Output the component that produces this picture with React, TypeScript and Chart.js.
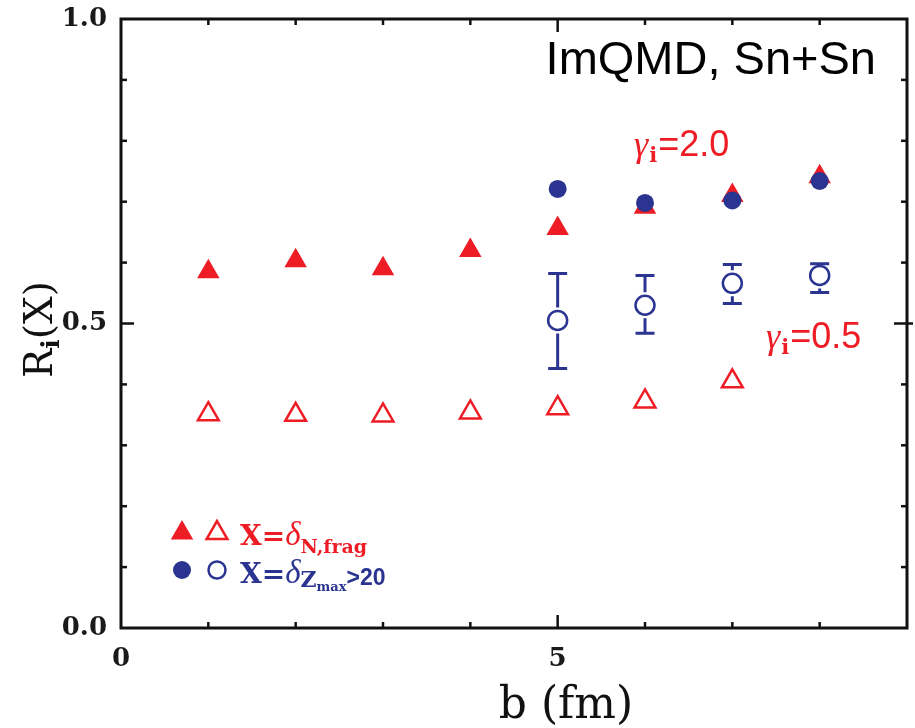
import React, { useEffect, useRef } from 'react';
import { Chart, registerables } from 'chart.js';

Chart.register(...registerables);

const RED = '#EE1D25';
const BLUE = '#2B3591';

// impact parameter b (fm)
const bAll = [1, 2, 3, 4, 5, 6, 7, 8];
const bOpenTri = [1, 2, 3, 4, 5, 6, 7];
const bZmax = [5, 6, 7, 8];
// X = delta_{N,frag}
const nFragGamma20 = [0.585, 0.603, 0.59, 0.62, 0.656, 0.691, 0.71, 0.741];
const nFragGamma05 = [0.351, 0.35, 0.349, 0.354, 0.361, 0.372, 0.405];
// X = delta_{Zmax>20}
const zmaxGamma20 = [0.721, 0.698, 0.702, 0.734];
const zmaxGamma05 = [0.505, 0.53, 0.566, 0.579];
const zmaxGamma05Low = [0.426, 0.484, 0.533, 0.551];
const zmaxGamma05High = [0.582, 0.579, 0.597, 0.598];
// tick labels
const xTickLabels = [0, 5];
const yTickLabels = [0, 0.5, 1.0];

type Run = { text: string; font: string; dy?: number; dx?: number; color?: string };

function drawRuns(ctx: CanvasRenderingContext2D, x: number, y: number, runs: Run[], color: string) {
  let cx = x;
  for (const r of runs) {
    ctx.font = r.font;
    ctx.fillStyle = r.color || color;
    cx += r.dx || 0;
    ctx.fillText(r.text, cx, y + (r.dy || 0));
    cx += ctx.measureText(r.text).width;
  }
  return cx;
}

function tri(ctx: CanvasRenderingContext2D, x: number, y: number, r: number, fill: boolean) {
  ctx.beginPath();
  for (let k = 0; k < 3; k++) {
    const a = (k * 2 * Math.PI) / 3;
    const px = x + Math.sin(a) * r;
    const py = y - Math.cos(a) * r;
    if (k === 0) ctx.moveTo(px, py);
    else ctx.lineTo(px, py);
  }
  ctx.closePath();
  if (fill) ctx.fill();
  else ctx.stroke();
}

const framePlugin = {
  id: 'frameAndText',
  afterDatasetsDraw(chart: any) {
    const { ctx, scales } = chart;
    const idx = chart.data.datasets.findIndex((d: any) => d.label === 'zmax05');
    const meta = chart.getDatasetMeta(idx);
    ctx.save();
    ctx.strokeStyle = BLUE;
    ctx.lineWidth = 3;
    meta.data.forEach((el: any, i: number) => {
      const yHi = scales.y.getPixelForValue(zmaxGamma05High[i]);
      const yLo = scales.y.getPixelForValue(zmaxGamma05Low[i]);
      const gap = 13;
      const x = el.x;
      ctx.beginPath();
      if (el.y - gap > yHi) {
        ctx.moveTo(x, yHi);
        ctx.lineTo(x, el.y - gap);
      }
      if (el.y + gap < yLo) {
        ctx.moveTo(x, el.y + gap);
        ctx.lineTo(x, yLo);
      }
      ctx.moveTo(x - 9.5, yHi);
      ctx.lineTo(x + 9.5, yHi);
      ctx.moveTo(x - 9.5, yLo);
      ctx.lineTo(x + 9.5, yLo);
      ctx.stroke();
    });
    ctx.restore();
  },
  afterDraw(chart: any) {
    const { ctx, chartArea: a, scales } = chart;
    ctx.save();
    // frame
    ctx.strokeStyle = '#111';
    ctx.lineWidth = 3;
    ctx.strokeRect(a.left, a.top, a.right - a.left, a.bottom - a.top);
    ctx.lineWidth = 2.5;
    const line = (x1: number, y1: number, x2: number, y2: number) => {
      ctx.beginPath();
      ctx.moveTo(x1, y1);
      ctx.lineTo(x2, y2);
      ctx.stroke();
    };
    for (let v = 1; v < 9; v++) {
      const px = scales.x.getPixelForValue(v);
      const L = v === 5 ? 13 : 6;
      line(px, a.bottom, px, a.bottom - L);
      line(px, a.top, px, a.top + L);
    }
    for (let i = 1; i < 10; i++) {
      const py = scales.y.getPixelForValue(i / 10);
      const L = i === 5 ? 13 : 6;
      line(a.left, py, a.left + L, py);
      line(i === 5 ? a.right + 6 : a.right, py, a.right - L, py);
    }

    ctx.textBaseline = 'alphabetic';
    ctx.textAlign = 'left';

    // title text
    ctx.fillStyle = '#000';
    ctx.font = '47px "Liberation Sans"';
    ctx.textAlign = 'right';
    ctx.fillText('ImQMD, Sn+Sn', 876, 74);
    ctx.textAlign = 'left';

    // gamma labels
    const gRuns = (val: string): Run[] => [
      { text: 'γ', font: 'italic 36px "Liberation Serif"' },
      { text: 'i', font: 'bold 21px "DejaVu Serif"', dy: 6, dx: 1 },
      { text: '=' + val, font: '36px "Liberation Sans"', dx: 1 },
    ];
    drawRuns(ctx, 634, 156, gRuns('2.0'), RED);
    drawRuns(ctx, 766, 348, gRuns('0.5'), RED);

    // x axis title
    ctx.fillStyle = '#111';
    ctx.font = '44px "DejaVu Serif"';
    ctx.textAlign = 'center';
    ctx.fillText('b (fm)', 566, 718);
    ctx.textAlign = 'left';

    // y axis title (rotated)
    ctx.save();
    ctx.translate(52, 378);
    ctx.rotate(-Math.PI / 2);
    drawRuns(
      ctx,
      0,
      0,
      [
        { text: 'R', font: '39px "DejaVu Serif"' },
        { text: 'i', font: 'bold 25px "DejaVu Serif"', dy: 7 },
        { text: '(X)', font: '39px "DejaVu Serif"' },
      ],
      '#111'
    );
    ctx.restore();

    // legend markers
    ctx.fillStyle = RED;
    ctx.strokeStyle = RED;
    ctx.lineWidth = 2.5;
    tri(ctx, 182, 533, 13, true);
    tri(ctx, 217, 533, 12, false);
    ctx.fillStyle = BLUE;
    ctx.strokeStyle = BLUE;
    ctx.beginPath();
    ctx.arc(182, 570, 9, 0, Math.PI * 2);
    ctx.fill();
    ctx.beginPath();
    ctx.arc(217, 570, 8.5, 0, Math.PI * 2);
    ctx.stroke();

    // legend text
    drawRuns(
      ctx,
      240,
      545,
      [
        { text: 'X=', font: 'bold 28px "DejaVu Serif"' },
        { text: 'δ', font: 'italic 33px "Liberation Serif"' },
        { text: 'N,frag', font: 'bold 19px "DejaVu Serif"', dy: 8 },
      ],
      RED
    );
    drawRuns(
      ctx,
      240,
      583,
      [
        { text: 'X=', font: 'bold 28px "DejaVu Serif"' },
        { text: 'δ', font: 'italic 33px "Liberation Serif"' },
        { text: 'Z', font: 'bold 22px "DejaVu Serif"', dy: 4 },
        { text: 'max', font: 'bold 13px "DejaVu Serif"', dy: 8 },
        { text: '>20', font: 'bold 23px "Liberation Sans"', dy: 2 },
      ],
      BLUE
    );
    ctx.restore();
  },
};

export default function App() {
  const ref = useRef<HTMLCanvasElement>(null);
  useEffect(() => {
    if (!ref.current) return;
    const pts = (xs: number[], ys: number[]) => xs.map((x, i) => ({ x, y: ys[i] }));
    const chart = new Chart(ref.current, {
      type: 'scatter',
      data: {
        datasets: [
          {
            label: 'nfrag20',
            data: pts(bAll, nFragGamma20),
            pointStyle: 'triangle',
            pointRadius: 13,
            backgroundColor: RED,
            borderColor: RED,
            borderWidth: 0,
            order: 2,
          },
          {
            label: 'nfrag05',
            data: pts(bOpenTri, nFragGamma05),
            pointStyle: 'triangle',
            pointRadius: 12,
            backgroundColor: 'rgba(255,255,255,0)',
            borderColor: RED,
            borderWidth: 2.5,
            order: 3,
          },
          {
            label: 'zmax20',
            data: pts(bZmax, zmaxGamma20),
            pointStyle: 'circle',
            pointRadius: 9,
            backgroundColor: BLUE,
            borderColor: BLUE,
            borderWidth: 0,
            order: 1,
          },
          {
            label: 'zmax05',
            data: pts(bZmax, zmaxGamma05),
            pointStyle: 'circle',
            pointRadius: 9.5,
            backgroundColor: 'rgba(255,255,255,0)',
            borderColor: BLUE,
            borderWidth: 2.5,
            order: 0,
          },
        ],
      },
      options: {
        animation: false,
        responsive: false,
        events: [],
        layout: { autoPadding: false, padding: { top: 19, right: 8, left: 0, bottom: 0 } },
        plugins: { legend: { display: false }, tooltip: { enabled: false } },
        scales: {
          x: {
            type: 'linear',
            min: 0,
            max: 9,
            afterFit: (s: any) => {
              s.height = 100;
              s.paddingLeft = 0;
              s.paddingRight = 0;
            },
            grid: { display: false, drawTicks: false },
            border: { display: false },
            ticks: {
              stepSize: 1,
              autoSkip: false,
              maxRotation: 0,
              padding: 16,
              color: '#1a1a1a',
              font: { family: 'DejaVu Serif', size: 26, weight: 'bold' },
              callback: (v: any) => (xTickLabels.includes(Number(v)) ? String(v) : ''),
            },
          },
          y: {
            type: 'linear',
            min: 0,
            max: 1,
            afterFit: (s: any) => {
              s.width = 121;
              s.paddingTop = 0;
              s.paddingBottom = 0;
            },
            grid: { display: false, drawTicks: false },
            border: { display: false },
            ticks: {
              stepSize: 0.1,
              autoSkip: false,
              padding: 14,
              color: '#1a1a1a',
              font: { family: 'DejaVu Serif', size: 26, weight: 'bold' },
              callback: (v: any) => {
                const m = yTickLabels.find((t) => Math.abs(t - Number(v)) < 1e-6);
                return m === undefined ? '' : m.toFixed(1);
              },
            },
          },
        },
      },
      plugins: [framePlugin],
    } as any);
    return () => chart.destroy();
  }, []);
  return (
    <div style={{ position: 'absolute', left: 0, top: 0, width: 915, height: 728, background: '#fff' }}>
      <canvas ref={ref} width={915} height={728} style={{ display: 'block' }} />
    </div>
  );
}
